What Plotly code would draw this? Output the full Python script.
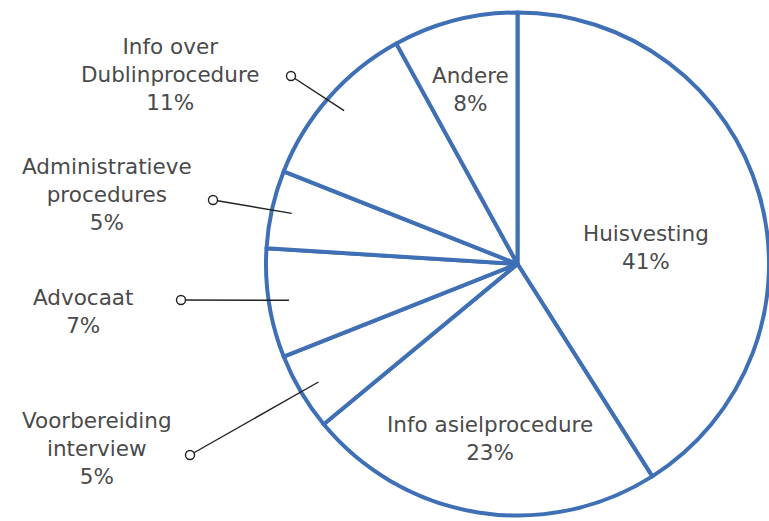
import math
import plotly.graph_objects as go

# ---- data ----
labels = ["Huisvesting", "Info asielprocedure", "Voorbereiding interview", "Advocaat",
          "Administratieve procedures", "Info over Dublinprocedure", "Andere"]
label_text = ["Huisvesting", "Info asielprocedure", "Voorbereiding<br>interview", "Advocaat",
              "Administratieve<br>procedures", "Info over<br>Dublinprocedure", "Andere"]
values = [41, 23, 5, 7, 5, 11, 8]

# ---- layout constants ----
W, H = 769, 521
CX, CY, R = 518.0, 264.0, 252.0
BLUE = "#3f6fb5"
TXT = "#4a4a4a"
FONT = "DejaVu Sans"
FS = 21.5

# label centre positions (pixels) and leader-circle positions (None = inside label)
label_pos = [(646, 247), (490, 438), (97, 448), (83, 311), (107, 195), (170, 74.5), (470, 89.5)]
circle_pos = [None, None, (190, 455), (181, 300), (213, 200), (291, 76), None]

def px(x):
    return x / W

def py(y):
    return 1 - y / H

fig = go.Figure(go.Pie(
    labels=labels, values=values, sort=False, direction="clockwise", rotation=0,
    textinfo="none", hoverinfo="label+percent",
    marker=dict(colors=["white"] * len(values), line=dict(color=BLUE, width=4)),
    domain=dict(x=[(CX - R) / W, 1.0], y=[py(CY + R), py(CY - R)]),
    showlegend=False,
))

total = sum(values)
annotations = []
shapes = []
cum = 0
for i, v in enumerate(values):
    mid = (cum + v / 2) / total * 2 * math.pi
    cum += v
    lx, ly = label_pos[i]
    annotations.append(dict(
        x=px(lx), y=py(ly), xref="paper", yref="paper", showarrow=False,
        text=f"{label_text[i]}<br>{v}%", align="center",
        xanchor="center", yanchor="middle",
        font=dict(family=FONT, size=FS, color=TXT),
    ))
    if circle_pos[i] is not None:
        ix = CX + 0.92 * R * math.sin(mid)
        iy = CY - 0.92 * R * math.cos(mid)
        ox, oy = circle_pos[i]
        shapes.append(dict(type="line", xref="paper", yref="paper",
                           x0=px(ix), y0=py(iy), x1=px(ox), y1=py(oy),
                           line=dict(color="#222222", width=1.4)))
        shapes.append(dict(type="circle", xref="paper", yref="paper",
                           xsizemode="pixel", ysizemode="pixel",
                           xanchor=px(ox), yanchor=py(oy),
                           x0=-4.5, x1=4.5, y0=-4.5, y1=4.5,
                           fillcolor="white", line=dict(color="#222222", width=1.4)))

fig.update_layout(
    width=W, height=H, margin=dict(l=0, r=0, t=0, b=0),
    paper_bgcolor="white", plot_bgcolor="white",
    annotations=annotations, shapes=shapes,
)

fig.write_html("out.html", config={"displayModeBar": False},
               post_script="document.body.style.margin='0';")
